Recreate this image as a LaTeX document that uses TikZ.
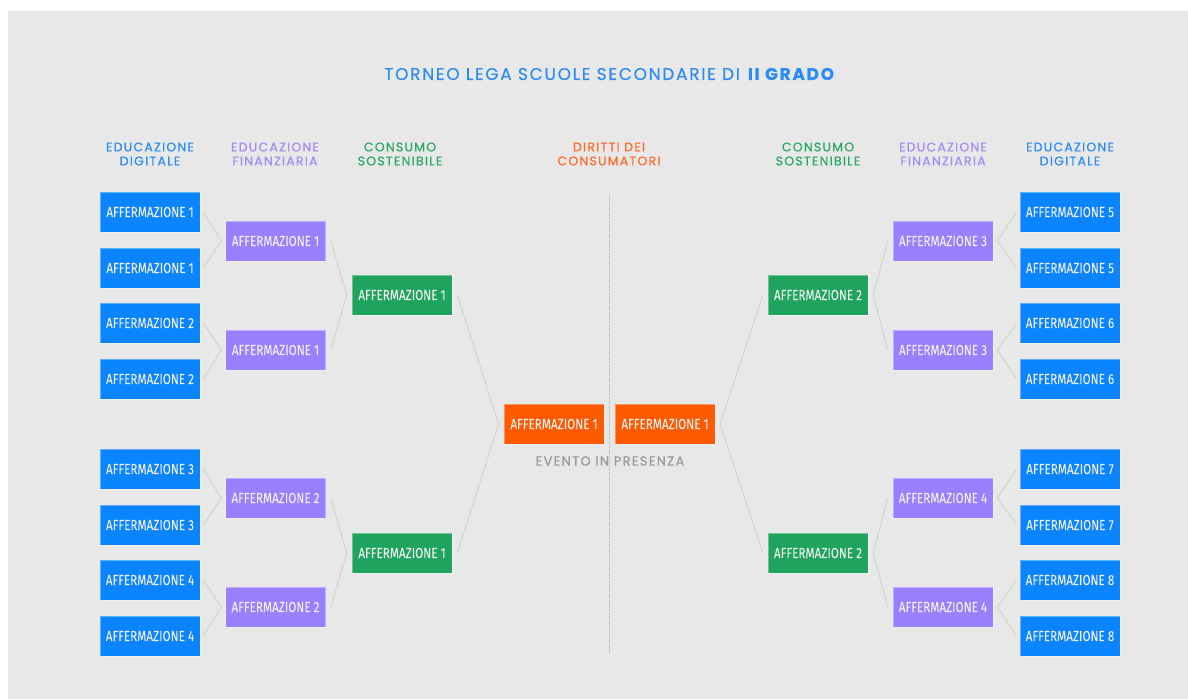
\documentclass[tikz,border=0pt]{standalone}
\usepackage{fontspec}
\usepackage{xcolor}
\usetikzlibrary{positioning}
\newfontfamily\boxfont[FakeStretch=0.8,FakeBold=0.4]{Fira Sans}
\newfontfamily\headfont[LetterSpace=10,FakeBold=0.5]{Poppins}
\definecolor{figBack}{HTML}{E8E8E8}
\definecolor{figBlue}{HTML}{0A84FF}
\definecolor{figPurple}{HTML}{9A80FF}
\definecolor{figGreen}{HTML}{1FA45F}
\definecolor{figOrange}{HTML}{FF5A00}
\definecolor{figLine}{HTML}{D2D2D2}
\definecolor{figGray}{HTML}{9A9A9A}
\definecolor{headBlue}{HTML}{2E8CF0}
\definecolor{headPurple}{HTML}{A58CF2}
\definecolor{headGreen}{HTML}{2AA765}
\definecolor{headOrange}{HTML}{FF6A2A}

\begin{document}
\begin{tikzpicture}[
  x=1pt, y=-1pt,
  box/.style={minimum width=100pt, minimum height=40pt, inner sep=0pt,
    draw=white, draw opacity=0.35, line width=0.6pt,
    font=\boxfont\fontsize{14.6}{14}\selectfont, text=white!94!black},
  link/.style={draw=figLine, line width=0.9pt},
  head node/.style={font=\headfont\fontsize{12.5}{14}\selectfont, align=center},
  title node/.style={font=\headfont\fontsize{17}{18}\selectfont, text=headBlue},
]

% page and background panel
\fill[white] (0,0) rectangle (1188,699);
\fill[figBack] (8,11) rectangle (1188,699);

% title
\node[title node] (title) at (610,74) {TORNEO LEGA SCUOLE SECONDARIE DI \textbf{II GRADO}};

% column headings
\node[head node, text=headBlue] (hdL) at (150,154) {EDUCAZIONE\\DIGITALE};
\node[head node, text=headPurple] (hfL) at (275,154) {EDUCAZIONE\\FINANZIARIA};
\node[head node, text=headGreen] (hcL) at (400,154) {CONSUMO\\SOSTENIBILE};
\node[head node, text=headOrange] (ho) at (609,154) {DIRITTI DEI\\CONSUMATORI};
\node[head node, text=headGreen] (hcR) at (818,154) {CONSUMO\\SOSTENIBILE};
\node[head node, text=headPurple] (hfR) at (943,154) {EDUCAZIONE\\FINANZIARIA};
\node[head node, text=headBlue] (hdR) at (1070,154) {EDUCAZIONE\\DIGITALE};

% dotted divider
\coordinate (divTop) at (609,195);
\coordinate (divBot) at (609,653);
\draw[figGray!70, line width=0.8pt, densely dotted] (divTop) -- (divBot);

% first round (educazione digitale)
\foreach \y [count=\i] in {212,268,323,379,469,525,580,636} {
  \pgfmathtruncatemacro{\n}{(\i+1)/2}
  \pgfmathtruncatemacro{\m}{\n+4}
  \node[box, fill=figBlue] (dL\i) at (150,\y) {AFFERMAZIONE \n};
  \node[box, fill=figBlue] (dR\i) at (1070,\y) {AFFERMAZIONE \m};
}

% second round (educazione finanziaria)
\foreach \y [count=\i] in {241,350,498,607} {
  \pgfmathtruncatemacro{\n}{(\i+1)/2}
  \pgfmathtruncatemacro{\m}{\n+2}
  \node[box, fill=figPurple] (fL\i) at (275.5,\y) {AFFERMAZIONE \n};
  \node[box, fill=figPurple] (fR\i) at (943,\y) {AFFERMAZIONE \m};
}

% third round (consumo sostenibile)
\foreach \y [count=\i] in {295,553} {
  \node[box, fill=figGreen] (cL\i) at (402,\y) {AFFERMAZIONE 1};
  \node[box, fill=figGreen] (cR\i) at (818,\y) {AFFERMAZIONE 2};
}

% final (diritti dei consumatori)
\node[box, fill=figOrange] (oL) at (554,424) {AFFERMAZIONE 1};
\node[box, fill=figOrange] (oR) at (665,424) {AFFERMAZIONE 1};
\node[font=\headfont\fontsize{13}{14}\selectfont, text=figGray] (evento) at (610,461) {EVENTO IN PRESENZA};

% bracket lines
\foreach \i in {1,...,8} {
  \pgfmathtruncatemacro{\p}{(\i+1)/2}
  \draw[link] ([xshift=3pt]dL\i.east) -- ([xshift=-4pt]fL\p.west);
  \draw[link] ([xshift=-3pt]dR\i.west) -- ([xshift=4pt]fR\p.east);
}
\foreach \i in {1,...,4} {
  \pgfmathtruncatemacro{\p}{(\i+1)/2}
  \draw[link] ([xshift=5pt]fL\i.east) -- ([xshift=-5pt]cL\p.west);
  \draw[link] ([xshift=-5pt]fR\i.west) -- ([xshift=5pt]cR\p.east);
}
\foreach \i in {1,2} {
  \draw[link] ([xshift=5pt]cL\i.east) -- ([xshift=-5pt]oL.west);
  \draw[link] ([xshift=-5pt]cR\i.west) -- ([xshift=5pt]oR.east);
}

\end{tikzpicture}
\end{document}
